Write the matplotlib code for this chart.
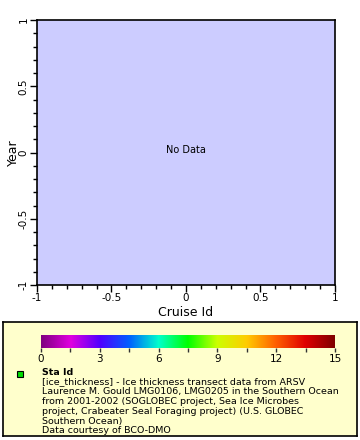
import matplotlib
matplotlib.use('Agg')
import matplotlib.pyplot as plt
from matplotlib.colors import LinearSegmentedColormap
from matplotlib.ticker import MultipleLocator
import numpy as np

# axis data (empty plot)
x_ticks = [-1, -0.5, 0, 0.5, 1]
y_ticks = [-1, -0.5, 0, 0.5, 1]
x_labels = ['-1', '-0.5', '0', '0.5', '1']
y_labels = ['-1', '-0.5', '0', '0.5', '1']
cbar_ticks = [0, 3, 6, 9, 12, 15]
cbar_colors = ['#800080', '#e000e0', '#5000ff', '#0060ff', '#00ffcc',
               '#00ff00', '#ccff00', '#ffcc00', '#ff6000', '#e00000', '#800000']
legend_lines = [
    "[ice_thickness] - Ice thickness transect data from ARSV",
    "Laurence M. Gould LMG0106, LMG0205 in the Southern Ocean",
    "from 2001-2002 (SOGLOBEC project, Sea Ice Microbes",
    "project, Crabeater Seal Foraging project) (U.S. GLOBEC",
    "Southern Ocean)",
    "Data courtesy of BCO-DMO",
]

plt.rcParams['font.family'] = 'DejaVu Sans'
fig = plt.figure(figsize=(3.6, 4.4), dpi=100)
W, H = 360, 440

# main axes
ax = fig.add_axes([37 / W, 1 - 285 / H, 298 / W, 265 / H])
ax.set_facecolor('#ccccff')
ax.set_xlim(-1, 1)
ax.set_ylim(-1, 1)
ax.set_xticks(x_ticks)
ax.set_xticklabels(x_labels, fontsize=7.5)
ax.set_yticks(y_ticks)
ax.set_yticklabels(y_labels, fontsize=7.5, rotation=90, va='center')
ax.xaxis.set_minor_locator(MultipleLocator(0.1))
ax.yaxis.set_minor_locator(MultipleLocator(0.1))
ax.tick_params(which='major', length=5, width=1, direction='out', pad=1)
ax.tick_params(which='minor', length=3, width=1, direction='out')
for s in ax.spines.values():
    s.set_linewidth(1.2)
ax.set_xlabel('Cruise Id', fontsize=9, labelpad=2)
ax.set_ylabel('Year', fontsize=9, labelpad=-1)
ax.text(0, 0, 'No Data', ha='center', va='baseline', fontsize=7)

# legend box
lax = fig.add_axes([3 / W, 1 - 436 / H, 354 / W, 114 / H])
lax.set_facecolor('#ffffcc')
lax.set_xlim(0, 354)
lax.set_ylim(114, 0)
lax.set_xticks([])
lax.set_yticks([])
for s in lax.spines.values():
    s.set_linewidth(1.2)
lax.plot([17], [52], marker='s', ms=4.5, mfc='#00dd00', mec='black', mew=0.8)
lax.text(39, 50, 'Sta Id', fontsize=6.8, fontweight='bold', va='center')
for i, line in enumerate(legend_lines):
    lax.text(39, 50 + (i + 1) * 9.8, line, fontsize=6.8, va='center')

# colorbar
cax = fig.add_axes([41 / W, 1 - 348 / H, 294 / W, 13 / H])
cmap = LinearSegmentedColormap.from_list('c', cbar_colors)
grad = np.linspace(0, 15, 256).reshape(1, -1)
cax.imshow(grad, aspect='auto', cmap=cmap, extent=[0, 15, 0, 1])
cax.set_yticks([])
cax.set_xticks(cbar_ticks)
cax.set_xticklabels([str(t) for t in cbar_ticks], fontsize=7.5)
cax.xaxis.set_minor_locator(MultipleLocator(1.5))
cax.tick_params(which='both', length=3, width=1, pad=1, color='#333333')
for s in cax.spines.values():
    s.set_visible(False)

fig.savefig('out.png', dpi=100)
